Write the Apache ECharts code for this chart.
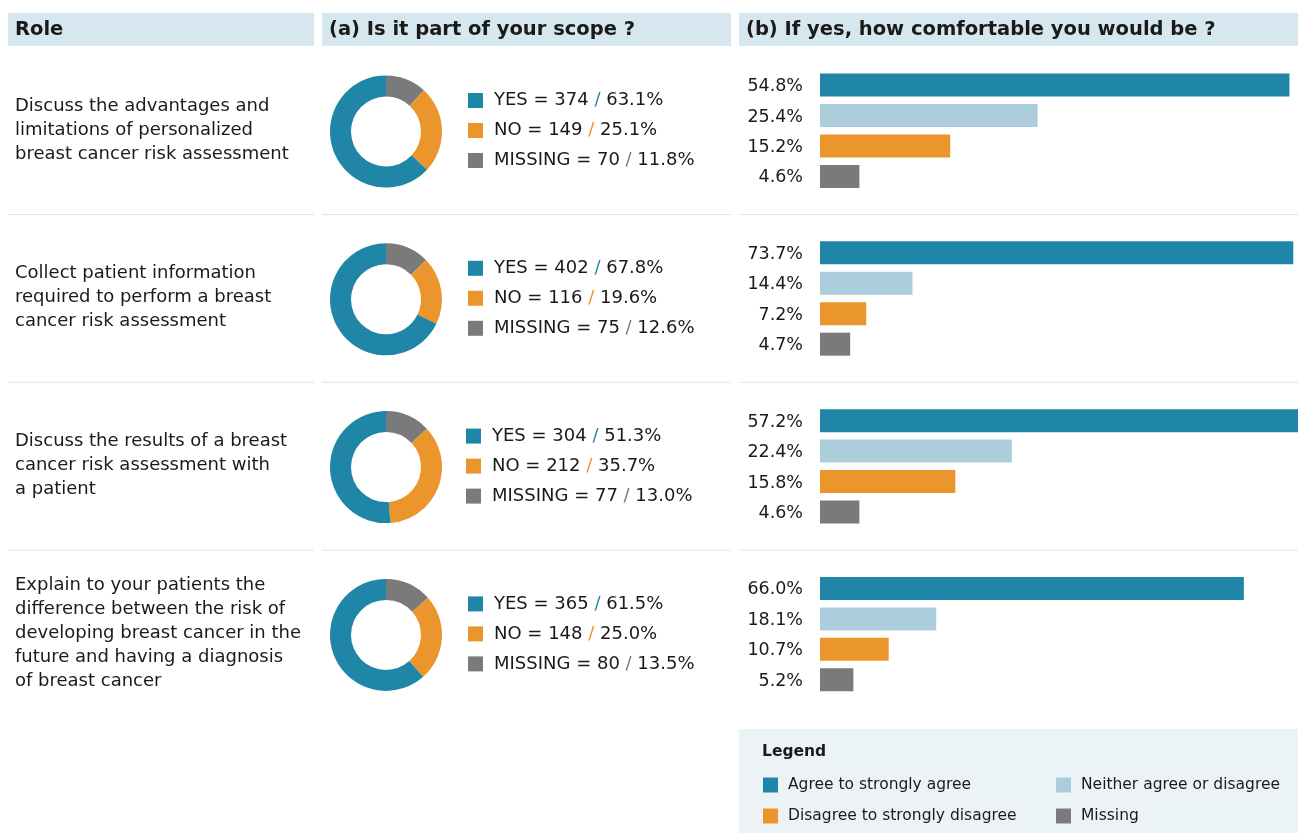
<!DOCTYPE html>
<html><head><meta charset="utf-8">
<script src="https://cdn.jsdelivr.net/npm/echarts@6/dist/echarts.min.js"></script>
<style>html,body{margin:0;padding:0;background:#fff}#c{width:1298px;height:833px}</style>
</head><body><div id="c"></div>
<script>
// ---------- data ----------
const headers = ['Role', '(a) Is it part of your scope ?', '(b) If yes, how comfortable you would be ?'];
const roles = [
  'Discuss the advantages and\nlimitations of personalized\nbreast cancer risk assessment',
  'Collect patient information\nrequired to perform a breast\ncancer risk assessment',
  'Discuss the results of a breast\ncancer risk assessment with\na patient',
  'Explain to your patients the\ndifference between the risk of\ndeveloping breast cancer in the\nfuture and having a diagnosis\nof breast cancer'
];
const scopeNames = ['YES', 'NO', 'MISSING'];
const scopeYesN = [374, 402, 304, 365];
const scopeYesPct = [63.1, 67.8, 51.3, 61.5];
const scopeNoN = [149, 116, 212, 148];
const scopeNoPct = [25.1, 19.6, 35.7, 25.0];
const scopeMissN = [70, 75, 77, 80];
const scopeMissPct = [11.8, 12.6, 13.0, 13.5];
const comfortCategories = ['Agree to strongly agree', 'Neither agree or disagree', 'Disagree to strongly disagree', 'Missing'];
const comfortAgree = [54.8, 73.7, 57.2, 66.0];
const comfortNeither = [25.4, 14.4, 22.4, 18.1];
const comfortDisagree = [15.2, 7.2, 15.8, 10.7];
const comfortMissing = [4.6, 4.7, 4.6, 5.2];
const comfortAxisMax = [57.2, 76.3, 57.2, 76.3];

// ---------- style ----------
const C_BLUE = '#1f86a8', C_LIGHT = '#abcddc', C_ORANGE = '#ea962d', C_GRAY = '#7a7a7a';
const C_TEXT = '#1a1a1a', C_HEAD = '#d6e7ef', C_LEG = '#ebf3f7', C_SEP = '#d6e8ef';
const FONT = '"DejaVu Sans", sans-serif';
const ROW_H = 167.8;
const comfortColors = [C_BLUE, C_LIGHT, C_ORANGE, C_GRAY];
const scopeColors = {YES: C_BLUE, NO: C_ORANGE, MISSING: C_GRAY};
const legendX = [468, 468, 466, 468];

const chart = echarts.init(document.getElementById('c'), null, {renderer: 'canvas'});

const graphic = [];
// headers
const headBoxes = [[8, 306], [322, 409], [739, 559]];
headBoxes.forEach((b, i) => {
  graphic.push({type: 'rect', shape: {x: b[0], y: 13, width: b[1], height: 33}, style: {fill: C_HEAD}, silent: true});
  graphic.push({type: 'text', x: b[0] + 7, y: 30, silent: true,
    style: {text: headers[i], fill: C_TEXT, fontFamily: FONT, fontWeight: 'bold', fontSize: 19.5, verticalAlign: 'middle'}});
});
// separators
[0, 1, 2].forEach(k => {
  const y = 214.5 + ROW_H * k;
  headBoxes.forEach(b => {
    graphic.push({type: 'line', shape: {x1: b[0], y1: y, x2: b[0] + b[1], y2: y}, style: {stroke: C_SEP, lineWidth: 1}, silent: true});
  });
});
// role texts and donut legends
roles.forEach((r, i) => {
  const cy = 130 + ROW_H * i;
  graphic.push({type: 'text', x: 15, y: cy, silent: true,
    style: {text: r, fill: C_TEXT, fontFamily: FONT, fontSize: 18, lineHeight: 24, verticalAlign: 'middle'}});
  const items = [
    ['YES', scopeYesN[i], scopeYesPct[i]],
    ['NO', scopeNoN[i], scopeNoPct[i]],
    ['MISSING', scopeMissN[i], scopeMissPct[i]]
  ];
  items.forEach((it, j) => {
    const ly = 130.5 + ROW_H * i + (j - 1) * 30;
    const col = scopeColors[it[0]];
    graphic.push({type: 'rect', shape: {x: legendX[i], y: ly - 7.5, width: 15, height: 15}, style: {fill: col}, silent: true});
    graphic.push({type: 'text', x: legendX[i] + 26, y: ly, silent: true,
      style: {
        text: '{t|' + it[0] + ' = ' + it[1] + ' }{s|/}{t| ' + it[2].toFixed(1) + '%}',
        verticalAlign: 'middle',
        rich: {
          t: {fill: C_TEXT, fontFamily: FONT, fontSize: 18},
          s: {fill: col, fontFamily: FONT, fontSize: 18}
        }
      }});
  });
});
// bottom legend box
graphic.push({type: 'rect', shape: {x: 739, y: 729, width: 559, height: 104}, style: {fill: C_LEG}, silent: true});
graphic.push({type: 'text', x: 762, y: 752, silent: true,
  style: {text: 'Legend', fill: C_TEXT, fontFamily: FONT, fontWeight: 'bold', fontSize: 15.5, verticalAlign: 'middle'}});
const legPos = [[763, 785], [1056, 785], [763, 816], [1056, 816]];
[0, 1, 2, 3].forEach((ci, k) => {
  const p = legPos[k];
  graphic.push({type: 'rect', shape: {x: p[0], y: p[1] - 7.5, width: 15, height: 15}, style: {fill: comfortColors[ci]}, silent: true});
  graphic.push({type: 'text', x: p[0] + 25, y: p[1], silent: true,
    style: {text: comfortCategories[ci], fill: C_TEXT, fontFamily: FONT, fontSize: 15.5, verticalAlign: 'middle'}});
});

// grids / axes / series
const grids = [], xAxes = [], yAxes = [], series = [];
for (let i = 0; i < 4; i++) {
  grids.push({left: 820, top: 69.8 + ROW_H * i, width: 490, height: 121.8, containLabel: false, outerBoundsMode: 'none'});
  xAxes.push({type: 'value', gridIndex: i, min: 0, max: comfortAxisMax[i], show: false});
  yAxes.push({type: 'category', gridIndex: i, inverse: true, data: comfortCategories, show: false});
  const vals = [comfortAgree[i], comfortNeither[i], comfortDisagree[i], comfortMissing[i]];
  series.push({
    type: 'bar', xAxisIndex: i, yAxisIndex: i, barWidth: 23, silent: true,
    data: vals.map((v, k) => ({value: v, itemStyle: {color: comfortColors[k]}})),
    label: {show: true, position: 'left', distance: 17, formatter: p => p.value.toFixed(1) + '%',
      color: C_TEXT, fontFamily: FONT, fontSize: 17.5, offset: [0, 1.5]}
  });
  series.push({
    type: 'pie', center: [386, 131.5 + ROW_H * i], radius: [35, 56], startAngle: 90, clockwise: true,
    silent: true, label: {show: false}, labelLine: {show: false},
    data: [
      {name: 'MISSING', value: scopeMissN[i], itemStyle: {color: C_GRAY}},
      {name: 'NO', value: scopeNoN[i], itemStyle: {color: C_ORANGE}},
      {name: 'YES', value: scopeYesN[i], itemStyle: {color: C_BLUE}}
    ]
  });
}

chart.setOption({
  animation: false,
  backgroundColor: '#fff',
  grid: grids, xAxis: xAxes, yAxis: yAxes, series: series,
  graphic: graphic
});
</script></body></html>
